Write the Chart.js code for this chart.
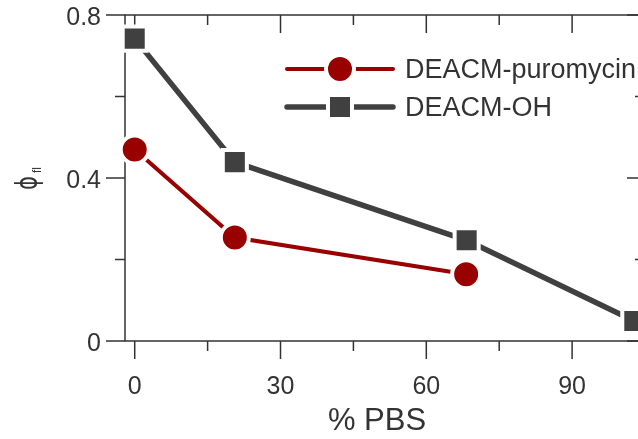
<!DOCTYPE html>
<html>
<head>
<meta charset="utf-8">
<script src="https://cdn.jsdelivr.net/npm/chart.js@4.4.1/dist/chart.umd.min.js"></script>
<style>
  html, body { margin: 0; padding: 0; background: #fff; overflow: hidden; }
  /* canvas is a bit larger than the window: the right frame sits just off-screen
     and Chart.js reserves room for the big markers at the top */
  #wrap { position: absolute; left: 0; top: -6px; width: 666px; height: 445px; }
</style>
</head>
<body>
<div id="wrap"><canvas id="pbsChart"></canvas></div>
<script>
// data
const pbsPuromycin = [0, 20.6, 68.2];
const phiPuromycin = [0.47, 0.254, 0.164];
const pbsOH = [0, 20.6, 68.3, 102.8];
const phiOH = [0.742, 0.439, 0.247, 0.049];

const seriesNames = ["DEACM-puromycin", "DEACM-OH"];
const xTicks = [0, 30, 60, 90];
const xMinorTicks = [15, 45, 75];
const yTicks = [0, 0.4, 0.8];
const yTickLabels = ["0", "0.4", "0.8"];
const yMinorTicks = [0.2, 0.6];

const RED = "#990000";
const GREY = "#404040";
const INK = "#333333";
const FONT = "'Liberation Sans', Arial, sans-serif";
const OFF = 6; // canvas y = window y + OFF

function toPoints(xs, ys) {
    return xs.map((x, i) => ({ x: x, y: ys[i] }));
}

// frame + ticks (all sides), labels and axis titles
const axesPlugin = {
    id: "axesFrame",
    beforeDatasetsDraw(chart) {
        const { ctx, chartArea: a, scales: { x, y } } = chart;
        ctx.save();
        ctx.strokeStyle = INK;
        ctx.lineWidth = 1.5;
        ctx.beginPath();
        ctx.rect(a.left, a.top, a.right - a.left, a.bottom - a.top);
        ctx.stroke();

        ctx.beginPath();
        xTicks.forEach(v => {
            const px = x.getPixelForValue(v);
            ctx.moveTo(px, a.bottom); ctx.lineTo(px, a.bottom + 18);
            ctx.moveTo(px, a.top); ctx.lineTo(px, a.top + 18);
        });
        xMinorTicks.forEach(v => {
            const px = x.getPixelForValue(v);
            ctx.moveTo(px, a.bottom); ctx.lineTo(px, a.bottom + 10);
            ctx.moveTo(px, a.top); ctx.lineTo(px, a.top + 10);
        });
        yTicks.forEach(v => {
            const py = y.getPixelForValue(v);
            ctx.moveTo(a.left - 19, py); ctx.lineTo(a.left, py);
            ctx.moveTo(a.right - 18, py); ctx.lineTo(a.right, py);
        });
        yMinorTicks.forEach(v => {
            const py = y.getPixelForValue(v);
            ctx.moveTo(a.left - 10, py); ctx.lineTo(a.left, py);
            ctx.moveTo(a.right - 10, py); ctx.lineTo(a.right, py);
        });
        ctx.stroke();

        // tick labels
        ctx.fillStyle = INK;
        ctx.font = "25px " + FONT;
        ctx.textAlign = "center";
        ctx.textBaseline = "alphabetic";
        xTicks.forEach(v => {
            ctx.fillText(String(v), x.getPixelForValue(v), a.bottom + 53);
        });
        ctx.textAlign = "right";
        yTicks.forEach((v, i) => {
            ctx.fillText(yTickLabels[i], 101, y.getPixelForValue(v) + 9.5);
        });

        // x title
        ctx.textAlign = "center";
        ctx.font = "31px " + FONT;
        ctx.fillText("% PBS", 377, 430 + OFF);

        // y title: phi with subscript fl, rotated
        ctx.translate(37, 183 + OFF);
        ctx.rotate(-Math.PI / 2);
        ctx.save();
        ctx.scale(0.7, 1);
        ctx.font = "30px 'DejaVu Sans', sans-serif";
        ctx.fillText("ϕ", 0, 0);
        ctx.restore();
        ctx.font = "12px " + FONT;
        ctx.fillText("fl", 13, 4);
        ctx.restore();
    },
    afterDatasetsDraw(chart) {
        const { ctx } = chart;
        const rows = [78, 116];
        ctx.save();
        chart.data.datasets.forEach((ds, i) => {
            const yMid = rows[i] - 9 + OFF;
            ctx.strokeStyle = ds.borderColor;
            ctx.lineWidth = ds.borderWidth;
            ctx.lineCap = "round";
            ctx.beginPath();
            ctx.moveTo(287, yMid); ctx.lineTo(393, yMid);
            ctx.stroke();
            ctx.fillStyle = ds.pointBackgroundColor;
            ctx.strokeStyle = "#fff";
            ctx.lineWidth = ds.pointBorderWidth;
            Chart.helpers.drawPoint(ctx, {
                pointStyle: ds.pointStyle,
                radius: ds.pointRadius,
                rotation: 0,
                borderWidth: ds.pointBorderWidth
            }, 340, yMid);
            ctx.fillStyle = INK;
            ctx.font = "27px " + FONT;
            ctx.textAlign = "left";
            ctx.textBaseline = "alphabetic";
            ctx.fillText(ds.label, 405, rows[i] + OFF);
        });
        ctx.restore();
    }
};

new Chart(document.getElementById("pbsChart"), {
    type: "line",
    data: {
        datasets: [
            {
                label: seriesNames[0],
                data: toPoints(pbsPuromycin, phiPuromycin),
                borderColor: RED,
                borderWidth: 4,
                borderCapStyle: "round",
                pointStyle: "circle",
                pointRadius: 14,
                pointBorderWidth: 4,
                pointBorderColor: "#fff",
                pointBackgroundColor: RED,
                clip: false
            },
            {
                label: seriesNames[1],
                data: toPoints(pbsOH, phiOH),
                borderColor: GREY,
                borderWidth: 5.5,
                borderCapStyle: "round",
                pointStyle: "rect",
                pointRadius: 17,
                pointBorderWidth: 4,
                pointBorderColor: "#fff",
                pointBackgroundColor: GREY,
                clip: false
            }
        ]
    },
    options: {
        responsive: true,
        maintainAspectRatio: false,
        devicePixelRatio: 1,
        animation: false,
        events: [],
        layout: { padding: { left: 125, top: 21, right: 21, bottom: 98 } },
        scales: {
            x: { type: "linear", min: -2, max: 105, display: false },
            y: { type: "linear", min: 0, max: 0.8, display: false }
        },
        plugins: {
            legend: { display: false },
            tooltip: { enabled: false }
        }
    },
    plugins: [axesPlugin]
});
</script>
</body>
</html>
